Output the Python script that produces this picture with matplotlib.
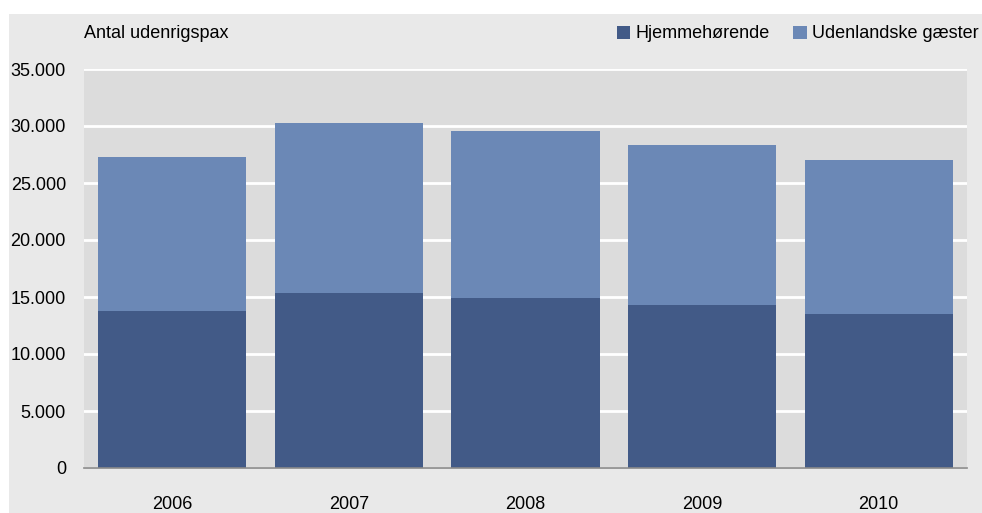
import matplotlib.pyplot as plt
import numpy as np
from matplotlib.patches import Rectangle

years = ["2006", "2007", "2008", "2009", "2010"]
hjemme = [13800, 15350, 14900, 14300, 13500]
udenlandske = [13500, 14950, 14650, 14050, 13500]
yticks = [0, 5000, 10000, 15000, 20000, 25000, 30000, 35000]
ytick_labels = ["0", "5.000", "10.000", "15.000", "20.000", "25.000", "30.000", "35.000"]

plt.rcParams['font.family'] = ['Liberation Sans', 'DejaVu Sans']
dark = '#425a87'
light = '#6b88b6'

fig = plt.figure(figsize=(9.82, 5.13), dpi=100, facecolor='white')
fig.patches.append(Rectangle((9 / 982, 0), 1, 1 - 14 / 513, transform=fig.transFigure,
                             facecolor='#e9e9e9', edgecolor='none', zorder=-10))

ax = fig.add_axes([84 / 982, 1 - 468 / 513, (967 - 84) / 982, (468 - 69) / 513])
ax.set_zorder(1)
ax.set_facecolor('#dcdcdc')

x = np.arange(len(years))
w = 0.84
ax.bar(x, hjemme, w, color=dark, label='Hjemmehørende', zorder=3)
ax.bar(x, udenlandske, w, bottom=hjemme, color=light, label='Udenlandske gæster', zorder=3)

ax.set_xlim(-0.5, len(years) - 0.5)
ax.set_ylim(0, 35000)
ax.set_yticks(yticks)
ax.set_yticklabels(ytick_labels)
ax.set_xticks(x)
ax.set_xticklabels(years)
ax.tick_params(axis='y', length=0, pad=13, labelsize=13)
ax.tick_params(axis='x', length=0, pad=20, labelsize=13)
ax.grid(axis='y', color='white', linewidth=2, zorder=1)
ax.set_axisbelow(True)

for s in ['top', 'right', 'left']:
    ax.spines[s].set_visible(False)
ax.spines['bottom'].set_color('#8a8a8a')
ax.spines['bottom'].set_linewidth(1.2)
ax.spines['bottom'].set_zorder(4)

fig.text(84 / 982, 1 - 34 / 513, 'Antal udenrigspax', fontsize=13, ha='left', va='center')

ax.legend(loc='center right', bbox_to_anchor=(979 / 982, 1 - 34 / 513),
          bbox_transform=fig.transFigure, ncol=2, frameon=False, fontsize=13,
          handlelength=0.75, handleheight=0.75, handletextpad=0.3, columnspacing=1.3,
          borderpad=0, borderaxespad=0)

plt.savefig('out.png', dpi=100, facecolor=fig.get_facecolor())
